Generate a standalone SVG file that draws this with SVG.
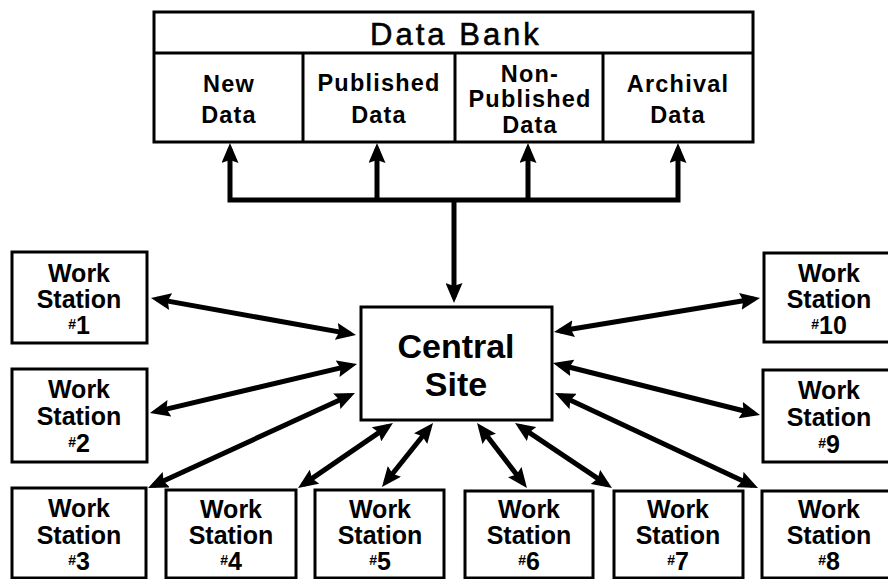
<svg xmlns="http://www.w3.org/2000/svg" width="888" height="579" viewBox="0 0 888 579">
<style>
.box{fill:#fff;stroke:#000;stroke-width:3}
.t{font-family:"Liberation Sans",Arial,sans-serif;font-weight:bold;text-anchor:middle;fill:#000}
.ws{font-size:25px}
.cell{font-size:23.5px;letter-spacing:1.2px}
.hash{font-size:14px}
.con{fill:none;stroke:#000;stroke-width:5}
</style>
<defs>
<marker id="ah" viewBox="0 0 20 17" refX="14" refY="8.5" markerWidth="20" markerHeight="17" markerUnits="userSpaceOnUse" orient="auto-start-reverse">
<path d="M0,0 L20,8.5 L0,17 L3,8.5 z" fill="#000"/>
</marker>
</defs>
<rect width="888" height="579" fill="#fff"/>

<g id="databank">
<rect class="box" x="154" y="12" width="599" height="130" stroke-width="3.5"/>
<line x1="154" y1="53" x2="753" y2="53" stroke="#000" stroke-width="3"/>
<line x1="303" y1="53" x2="303" y2="142" stroke="#000" stroke-width="3"/>
<line x1="455" y1="53" x2="455" y2="142" stroke="#000" stroke-width="3"/>
<line x1="603" y1="53" x2="603" y2="142" stroke="#000" stroke-width="3"/>
<text x="456" y="45" font-family="Liberation Sans,Arial,sans-serif" font-size="31" letter-spacing="3" text-anchor="middle" stroke="#000" stroke-width="0.6">Data Bank</text>
</g>
<g id="newdata"><text class="t cell" x="229" y="92">New</text><text class="t cell" x="229" y="123">Data</text></g>
<g id="publisheddata"><text class="t cell" x="379" y="91">Published</text><text class="t cell" x="379" y="123">Data</text></g>
<g id="nonpublisheddata"><text class="t cell" x="530" y="82">Non-</text><text class="t cell" x="530" y="107">Published</text><text class="t cell" x="530" y="133">Data</text></g>
<g id="archivaldata"><text class="t cell" x="678" y="92">Archival</text><text class="t cell" x="678" y="123">Data</text></g>

<g id="central">
<rect class="box" x="361" y="307" width="191" height="113"/>
<text class="t" x="456" y="358" font-size="34">Central</text>
<text class="t" x="456" y="396" font-size="34">Site</text>
</g>

<g id="ws1"><rect class="box" x="12" y="252" width="135" height="91"/>
<text class="t ws" x="79" y="282">Work</text><text class="t ws" x="79" y="308">Station</text><text class="t ws" x="79" y="334"><tspan class="hash" baseline-shift="5">#</tspan>1</text></g>
<g id="ws2"><rect class="box" x="12" y="369" width="135" height="93"/>
<text class="t ws" x="79" y="398">Work</text><text class="t ws" x="79" y="425">Station</text><text class="t ws" x="79" y="452"><tspan class="hash" baseline-shift="5">#</tspan>2</text></g>
<g id="ws3"><rect class="box" x="12" y="488" width="134" height="90"/>
<text class="t ws" x="79" y="517">Work</text><text class="t ws" x="79" y="544">Station</text><text class="t ws" x="79" y="570"><tspan class="hash" baseline-shift="5">#</tspan>3</text></g>
<g id="ws4"><rect class="box" x="166" y="490" width="130" height="88"/>
<text class="t ws" x="231" y="518">Work</text><text class="t ws" x="231" y="544">Station</text><text class="t ws" x="231" y="570"><tspan class="hash" baseline-shift="5">#</tspan>4</text></g>
<g id="ws5"><rect class="box" x="315" y="490" width="129" height="88"/>
<text class="t ws" x="380" y="518">Work</text><text class="t ws" x="380" y="544">Station</text><text class="t ws" x="380" y="570"><tspan class="hash" baseline-shift="5">#</tspan>5</text></g>
<g id="ws6"><rect class="box" x="465" y="491" width="128" height="87"/>
<text class="t ws" x="529" y="518">Work</text><text class="t ws" x="529" y="544">Station</text><text class="t ws" x="529" y="570"><tspan class="hash" baseline-shift="5">#</tspan>6</text></g>
<g id="ws7"><rect class="box" x="614" y="491" width="129" height="87"/>
<text class="t ws" x="678" y="518">Work</text><text class="t ws" x="678" y="544">Station</text><text class="t ws" x="678" y="570"><tspan class="hash" baseline-shift="5">#</tspan>7</text></g>
<g id="ws8"><rect class="box" x="762" y="491" width="135" height="87"/>
<text class="t ws" x="829" y="518">Work</text><text class="t ws" x="829" y="544">Station</text><text class="t ws" x="829" y="570"><tspan class="hash" baseline-shift="5">#</tspan>8</text></g>
<g id="ws9"><rect class="box" x="763" y="370" width="135" height="92"/>
<text class="t ws" x="829" y="399">Work</text><text class="t ws" x="829" y="426">Station</text><text class="t ws" x="829" y="453"><tspan class="hash" baseline-shift="5">#</tspan>9</text></g>
<g id="ws10"><rect class="box" x="764" y="253" width="135" height="89"/>
<text class="t ws" x="829" y="282">Work</text><text class="t ws" x="829" y="308">Station</text><text class="t ws" x="829" y="334"><tspan class="hash" baseline-shift="5">#</tspan>10</text></g>

<g id="connectors">
<path class="con" d="M230,149 V200 H678 V149" marker-start="url(#ah)" marker-end="url(#ah)"/>
<path class="con" d="M377,200 V149" marker-end="url(#ah)"/>
<path class="con" d="M528,200 V149" marker-end="url(#ah)"/>
<path class="con" d="M454,200 V297" marker-end="url(#ah)"/>
<line class="con" x1="156.9" y1="299.1" x2="350.1" y2="333.9" marker-start="url(#ah)" marker-end="url(#ah)"/>
<line class="con" x1="155.8" y1="411.6" x2="351.2" y2="365.4" marker-start="url(#ah)" marker-end="url(#ah)"/>
<line class="con" x1="153.5" y1="485.5" x2="349.5" y2="395.5" marker-start="url(#ah)" marker-end="url(#ah)"/>
<line class="con" x1="303" y1="484.6" x2="388" y2="426.4" marker-start="url(#ah)" marker-end="url(#ah)"/>
<line class="con" x1="385.7" y1="482.3" x2="429.3" y2="427.7" marker-start="url(#ah)" marker-end="url(#ah)"/>
<line class="con" x1="480.7" y1="427.8" x2="523.3" y2="483.2" marker-start="url(#ah)" marker-end="url(#ah)"/>
<line class="con" x1="520" y1="426.3" x2="607" y2="484.7" marker-start="url(#ah)" marker-end="url(#ah)"/>
<line class="con" x1="560.4" y1="395.5" x2="752.6" y2="485.5" marker-start="url(#ah)" marker-end="url(#ah)"/>
<line class="con" x1="558.8" y1="364.5" x2="754.2" y2="413.5" marker-start="url(#ah)" marker-end="url(#ah)"/>
<line class="con" x1="559.9" y1="331" x2="754.1" y2="299" marker-start="url(#ah)" marker-end="url(#ah)"/>
</g>
</svg>
